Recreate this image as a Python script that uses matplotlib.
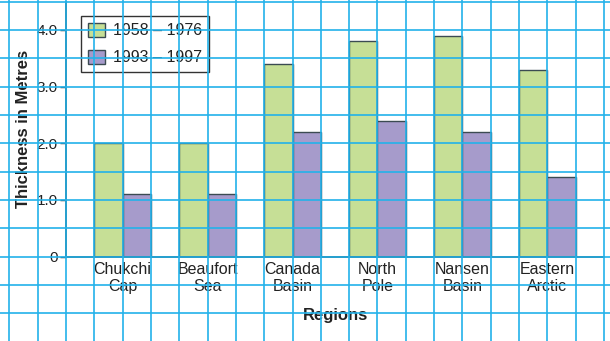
import numpy as np
import matplotlib
matplotlib.use("Agg")
import matplotlib.pyplot as plt

# Mean Arctic sea-ice thickness by region
regions = ["Chukchi\nCap", "Beaufort\nSea", "Canada\nBasin", "North\nPole",
           "Nansen\nBasin", "Eastern\nArctic"]
thick_1958_1976 = [2.0, 2.0, 3.4, 3.8, 3.9, 3.3]
thick_1993_1997 = [1.1, 1.1, 2.2, 2.4, 2.2, 1.4]
series_labels = ["1958 – 1976", "1993 – 1997"]
y_ticks = [0, 1.0, 2.0, 3.0, 4.0]
y_tick_labels = ["0", "1.0", "2.0", "3.0", "4.0"]

plt.rcParams["font.family"] = ["Liberation Sans", "DejaVu Sans"]

GREEN = "#c6df96"
PURPLE = "#a69bcb"
EDGE = "#3b4b52"
GRID = "#22b2ea"
INK = "#222222"

W, H = 610, 341
fig = plt.figure(figsize=(W / 100, H / 100), dpi=100)
fig.patch.set_facecolor("white")

# plot area in pixels: x 66..604, y (from top) 1.5..256.7
ax = fig.add_axes([66 / W, (H - 256.7) / H, 538 / W, 255.2 / H])
ax.set_facecolor("white")

# each grid square is one x unit and 0.5 y units
centers = 4 + 3 * np.arange(len(regions))
ax.bar(centers - 0.5, thick_1958_1976, width=1.0, color=GREEN,
       edgecolor=EDGE, linewidth=1.0, label=series_labels[0], zorder=2)
ax.bar(centers + 0.5, thick_1993_1997, width=1.0, color=PURPLE,
       edgecolor=EDGE, linewidth=1.0, label=series_labels[1], zorder=2)

for side in ("top", "right"):
    ax.spines[side].set_visible(False)
for side in ("left", "bottom"):
    ax.spines[side].set_color(INK)
    ax.spines[side].set_linewidth(1.2)

ax.set_yticks(y_ticks)
ax.set_yticklabels(y_tick_labels)
ax.set_xticks(centers)
ax.set_xticklabels(regions, linespacing=1.15)
ax.tick_params(axis="y", direction="out", length=4, width=1, color=INK,
               labelsize=11, labelcolor=INK, pad=2)
ax.tick_params(axis="x", length=0, labelsize=11.5, labelcolor=INK, pad=4)

ax.set_ylabel("Thickness in Metres", fontsize=12, fontweight="bold",
              color=INK, labelpad=4)
ax.set_xlabel("Regions", fontsize=12, fontweight="bold", color=INK,
              labelpad=10)

leg = ax.legend(loc="upper left", bbox_to_anchor=(0.028, 0.943),
                borderaxespad=0, fontsize=11.5, frameon=True, fancybox=False,
                framealpha=1, edgecolor="#333333", handlelength=1.05,
                handleheight=1.0, handletextpad=0.55, labelspacing=0.7,
                borderpad=0.42)
leg.get_frame().set_linewidth(1.0)
for t in leg.get_texts():
    t.set_color(INK)

# graph-paper grid laid over the whole page
for k in range(0, 23):
    ax.plot([k, k], [-2, 5], color=GRID, lw=1.2, zorder=10, clip_on=False)
for y in np.arange(-1.5, 4.51, 0.5):
    ax.plot([-1, 22], [y, y], color=GRID, lw=1.2, zorder=10, clip_on=False)

ax.set_xlim(2, 21)
ax.set_ylim(0, 4.5)

fig.savefig("out.png", dpi=100)
